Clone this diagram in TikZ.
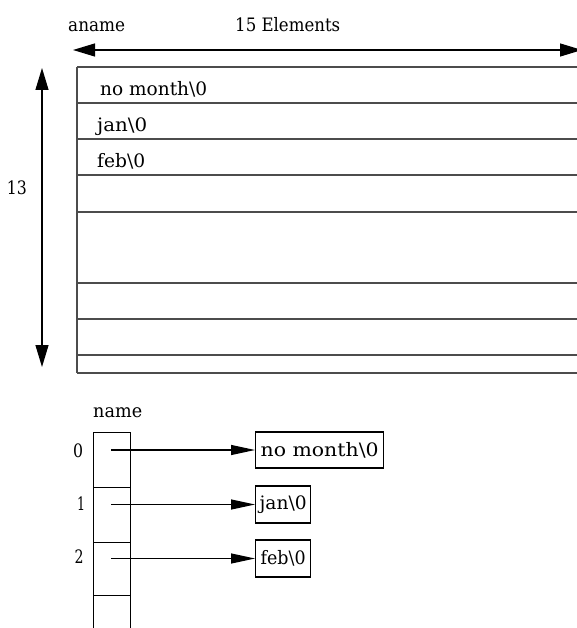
\documentclass[tikz,border=0pt]{standalone}
\usepackage{fontspec}
\setmainfont{DejaVu Serif}
\usetikzlibrary{arrows.meta}
\newcommand\wt[2]{\resizebox{#1pt}{\height}{#2}}
\tikzset{
  txt/.style={anchor=base west, inner sep=0pt, font=\fontsize{18.5}{22}\selectfont},
  tline/.style={line width=1.5pt, draw=black!70},
  dimarrow/.style={line width=1.2pt, {Triangle[length=22pt,width=13pt]}-{Triangle[length=22pt,width=13pt]}},
  ptr/.style={line width=1.2pt, -{Triangle[length=24pt,width=10pt]}},
  strbox/.style={draw, line width=1.3pt, minimum height=36pt, inner sep=0pt, anchor=west, font=\fontsize{18.5}{22}\selectfont},
  cell/.style={draw, line width=1.3pt, minimum width=37pt, inner sep=0pt, anchor=north west}
}
\begin{document}
\begin{tikzpicture}[x=1pt,y=-1pt]
\useasboundingbox (0,0) rectangle (577,628);
\clip (0,0) rectangle (577,628);
\fill[white] (0,0) rectangle (577,628);

% top labels
\node[txt] (aname) at (68,32) {\wt{57}{aname}};
\node[txt] (elems) at (235,32) {\wt{105}{15 Elements}};
\coordinate (hl) at (73,50);
\coordinate (hr) at (582,50);
\draw[dimarrow] (hl) -- (hr);

% vertical dimension
\coordinate (vt) at (42,68);
\coordinate (vb) at (42,367);
\draw[dimarrow] (vt) -- (vb);
\node[txt, anchor=base east] (thirteen) at (27,195) {\wt{20}{13}};

% big table
\draw[tline] (77,67) -- (77,373);
\foreach \yy in {67,103,139,175,212,283,319,355,373}
  \draw[tline] (77,\yy) -- (590,\yy);
\node[txt] (r0) at (100,96) {\wt{107}{no month\textbackslash 0}};
\node[txt] (r1) at (97,132) {\wt{50}{jan\textbackslash 0}};
\node[txt] (r2) at (97,168) {\wt{48}{feb\textbackslash 0}};

% name array
\node[txt] (name) at (93,417) {\wt{49}{name}};
\node[cell, minimum height=55pt] (c0) at (93,432) {};
\node[cell, minimum height=55pt] (c1) at (93,487) {};
\node[cell, minimum height=53pt] (c2) at (93,542) {};
\node[cell, minimum height=60pt] (c3) at (93,595) {};
\node[txt, anchor=base] (l0) at (78,457) {\wt{10}{0}};
\node[txt, anchor=base] (l1) at (81,510) {\wt{8}{1}};
\node[txt, anchor=base] (l2) at (79,563) {\wt{9}{2}};

% string boxes
\node[strbox, minimum width=128pt] (s0) at (255,450) {\wt{118}{no month\textbackslash 0}};
\node[strbox, minimum width=55pt, minimum height=37pt] (s1) at (255,504.5) {\wt{47}{jan\textbackslash 0}};
\node[strbox, minimum width=55pt, minimum height=37pt] (s2) at (255,558.5) {\wt{45}{feb\textbackslash 0}};

\coordinate (p0) at (111,450);
\coordinate (p1) at (111,504.5);
\coordinate (p2) at (111,558.5);
\draw[ptr] (p0) -- (s0.west);
\draw[ptr] (p1) -- (s1.west);
\draw[ptr] (p2) -- (s2.west);
\end{tikzpicture}
\end{document}
